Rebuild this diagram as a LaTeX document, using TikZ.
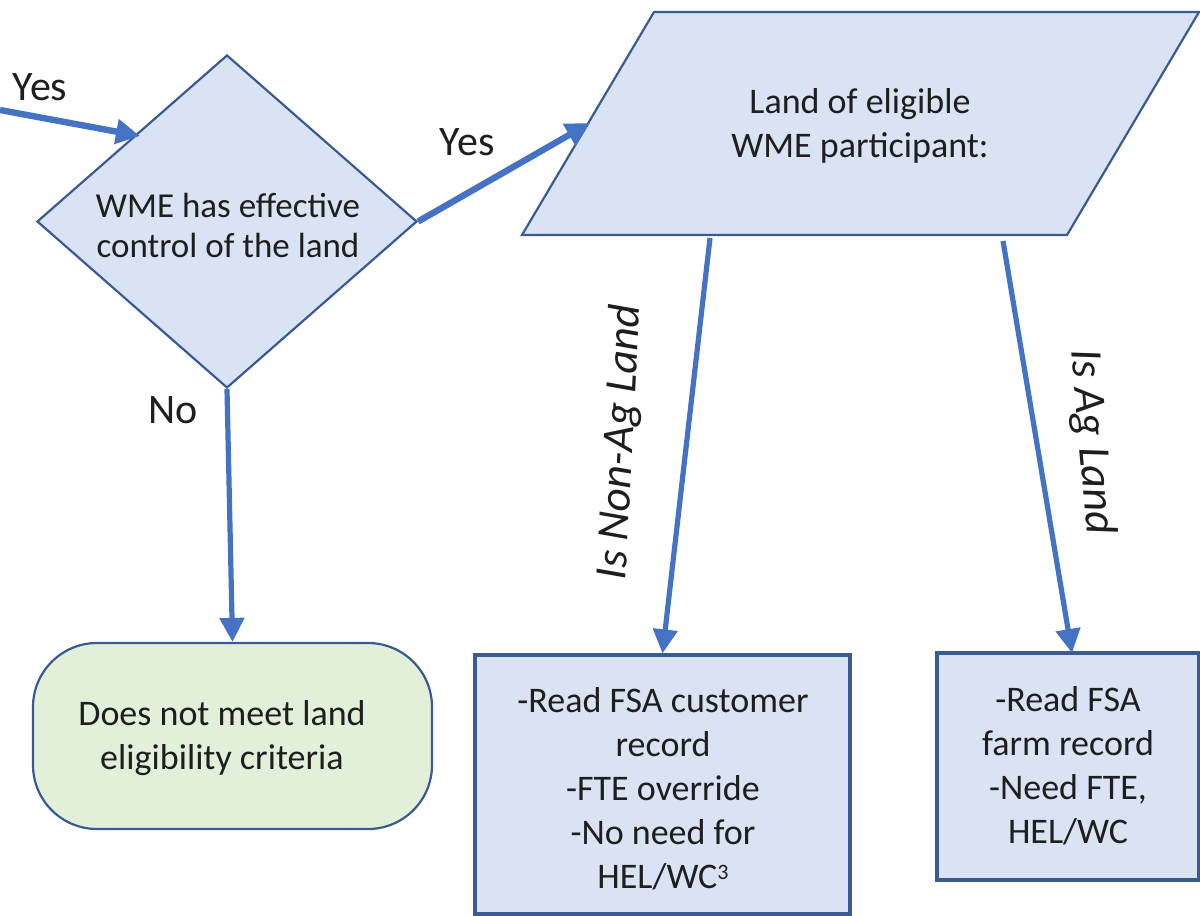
\documentclass[tikz,border=0pt]{standalone}
\usepackage{fontspec}
\setmainfont{Carlito}
\usetikzlibrary{shapes.geometric,arrows.meta,calc}
\definecolor{arrowblue}{HTML}{4472C4}
\definecolor{edgeblue}{HTML}{3A5A94}
\definecolor{fillblue}{HTML}{DAE3F3}
\definecolor{fillgreen}{HTML}{E2F0D9}
\definecolor{txt}{HTML}{1E1E1E}
\tikzset{
  conn/.style={draw=arrowblue, line width=2.6pt, -{Triangle[length=12pt,width=12pt]}},
  thickconn/.style={conn, line width=3.2pt},
  shapeedge/.style={draw=edgeblue, line width=1.1pt, fill=fillblue},
  boxtext/.style={text=txt, font=\fontsize{18}{22}\selectfont, align=center},
  lbl/.style={text=txt, font=\fontsize{21}{25}\selectfont},
  rlbl/.style={text=txt, font=\fontsize{22.5}{26}\selectfont\itshape},
  procbox/.style={shapeedge, line width=1.6pt, rectangle, boxtext, inner sep=0pt},
}
\begin{document}
\begin{tikzpicture}[x=0.5pt,y=-0.5pt]
\useasboundingbox (0,0) rectangle (1200,916);
% decision diamond
\node[diamond, shapeedge, minimum width=190pt, minimum height=166.5pt, inner sep=0pt] (dm) at (227,221.5) {};
\node[boxtext, font=\fontsize{17.5}{20}\selectfont] (dmt) at (228,225) {WME has effective\\control of the land};
% parallelogram
\coordinate (pTL) at (654,12);
\coordinate (pTR) at (1199,12);
\coordinate (pBR) at (1067,235);
\coordinate (pBL) at (522,235);
\draw[shapeedge] (pTL) -- (pTR) -- (pBR) -- (pBL) -- cycle;
\node[boxtext] (par) at (860,126) {Land of eligible\\WME participant:};
% terminal
\node[draw=edgeblue, line width=1.1pt, fill=fillgreen, rectangle, rounded corners=32pt,
      minimum width=199.5pt, minimum height=93pt, boxtext, inner sep=0pt] (term) at (232.5,736) {};
\node[boxtext] (termt) at (222,738.5) {Does not meet land\\eligibility criteria};
% process boxes
\node[procbox, minimum width=187.5pt, minimum height=129.5pt] (b1) at (662.5,784.5) {};
\node[boxtext] (b1t) at (663,789) {-Read FSA customer\\record\\-FTE override\\-No need for\\HEL/WC\raisebox{0.55ex}{\fontsize{11}{11}\selectfont 3}};
\node[procbox, minimum width=131pt, minimum height=113.5pt] (b2) at (1068,766.5) {};
\node[boxtext] (b2t) at (1068,766) {-Read FSA\\farm record\\-Need FTE,\\HEL/WC};
% connector end points
\coordinate (cin) at (0,110);
\coordinate (dmIn) at (140,136);
\coordinate (parIn) at (590,123);
\coordinate (parOut1) at (710,238);
\coordinate (parOut2) at (1003,241);
\coordinate (b2In) at (1072,653);
% connectors
\draw[thickconn] (cin) -- (dmIn);
\draw[thickconn] (dm.east) -- (parIn);
\draw[conn] (dm.south) -- (term.north);
\draw[conn] (parOut1) -- (b1.north);
\draw[conn] (parOut2) -- (b2In);
% labels
\node[lbl] (y1) at (40,87) {Yes};
\node[lbl] (y2) at (467,142) {Yes};
\node[lbl] (no) at (173,410) {No};
\node[rlbl, rotate=87] (l1) at (621,442) {Is Non-Ag Land};
\node[rlbl, rotate=-85] (l2) at (1091,442) {Is Ag Land};
\end{tikzpicture}
\end{document}
